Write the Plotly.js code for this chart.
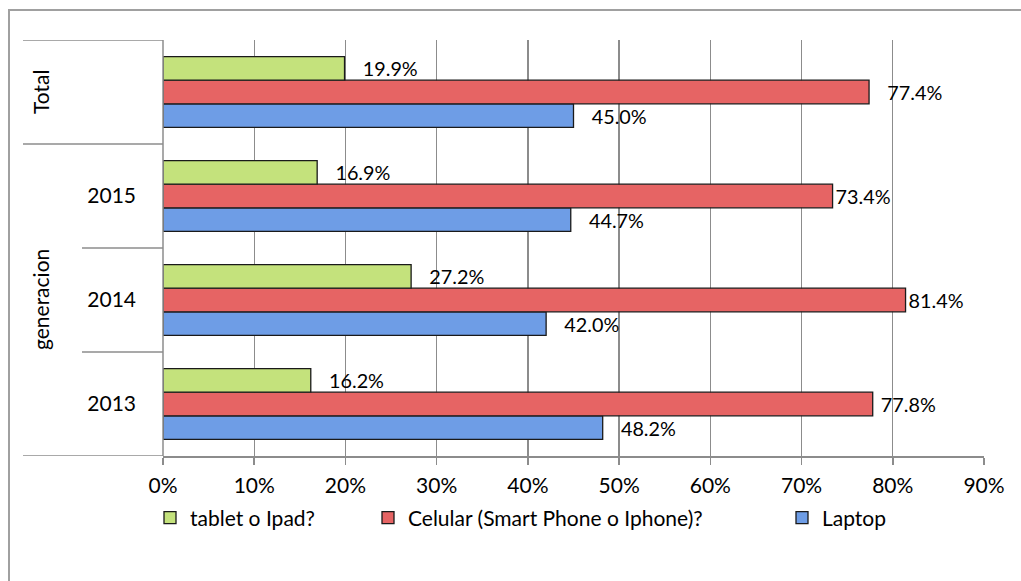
<!DOCTYPE html>
<html>
<head>
<meta charset="utf-8">
<script src="https://cdn.plot.ly/plotly-3.0.1.min.js"></script>
<style>html,body{margin:0;padding:0;background:#fff;}#chart{width:1021px;height:581px;}</style>
</head>
<body>
<div id="chart"></div>
<script>
var categories = ["2013", "2014", "2015", "Total"];
var tickLabels = ["2013", "2014", "2015", ""];
var laptop = [0.482, 0.420, 0.447, 0.450];
var celular = [0.778, 0.814, 0.734, 0.774];
var tablet = [0.162, 0.272, 0.169, 0.199];
var seriesNames = ["Laptop", "Celular (Smart Phone o Iphone)?", "tablet o Ipad?"];
var groupTotal = "Total";
var groupGen = "generacion";

var F = "Lato, 'Open Sans', sans-serif";
var FS = 21;
var sp = "\u00a0";
function mk(vals, name, color, tmpl, leg) {
  return {
    type: "bar", orientation: "h", y: categories, x: vals, name: name,
    marker: {color: color, line: {color: "#1a1a1a", width: 1.3}},
    texttemplate: tmpl, textposition: "outside", cliponaxis: false,
    textfont: {family: F, size: FS, color: "#000"},
    hoverinfo: "x+name", legend: leg
  };
}
var gapT = sp + sp + sp + "%{x:.1%}";
var data = [
  mk(laptop, seriesNames[0], "#6e9de6", gapT, "legend3"),
  mk(celular, seriesNames[1], "#e66464", [sp + "%{x:.1%}", "%{x:.1%}", "%{x:.1%}", gapT], "legend2"),
  mk(tablet, seriesNames[2], "#c4e27c", gapT, "legend")
];

var lineC = "#8c8c8c";
function px2x(p) { return (p - 163) / 821; }
var shapes = [
  {type: "rect", xref: "paper", yref: "paper", x0: px2x(9), x1: 1.2, y0: -0.5, y1: (456 - 10) / 416, line: {color: "#a0a0a0", width: 2}, layer: "below"},
  {type: "line", xref: "paper", yref: "y", x0: px2x(23), x1: 0, y0: 3.5, y1: 3.5, line: {color: lineC, width: 1.5}},
  {type: "line", xref: "paper", yref: "y", x0: px2x(23), x1: 0, y0: 2.5, y1: 2.5, line: {color: lineC, width: 1.5}},
  {type: "line", xref: "paper", yref: "y", x0: px2x(82), x1: 0, y0: 1.5, y1: 1.5, line: {color: lineC, width: 1.5}},
  {type: "line", xref: "paper", yref: "y", x0: px2x(82), x1: 0, y0: 0.5, y1: 0.5, line: {color: lineC, width: 1.5}},
  {type: "line", xref: "paper", yref: "y", x0: px2x(23), x1: 0, y0: -0.5, y1: -0.5, line: {color: lineC, width: 1.5}},
  {type: "line", xref: "paper", yref: "y", x0: 0, x1: 0, y0: -0.5, y1: 3.5, line: {color: lineC, width: 1.5}}
];

function leg(px) {
  return {orientation: "h", x: px2x(px), xanchor: "left", y: (456 - 518) / 416, yanchor: "middle",
    font: {family: F, size: FS, color: "#000"}, itemclick: false, itemdoubleclick: false, bgcolor: "rgba(0,0,0,0)"};
}

var layout = {
  width: 1021, height: 581,
  margin: {l: 163, r: 37, t: 40, b: 125},
  paper_bgcolor: "#fff", plot_bgcolor: "#fff",
  barmode: "group", bargap: 0.32, bargroupgap: 0,
  font: {family: F, size: FS, color: "#000"},
  xaxis: {
    range: [0, 0.9], dtick: 0.1, tickformat: ".0%", showgrid: true, gridcolor: lineC, gridwidth: 1.3,
    zeroline: false, showline: true, linecolor: lineC, linewidth: 1.5,
    ticks: "outside", ticklen: 7, tickcolor: lineC, tickwidth: 1.5, ticklabelstandoff: 3,
    tickfont: {family: F, size: FS, color: "#000"}, fixedrange: true
  },
  yaxis: {
    type: "category", categoryorder: "array", categoryarray: categories, range: [-0.5, 3.5],
    tickvals: categories, ticktext: tickLabels, ticks: "", showgrid: false, zeroline: false,
    showline: false, ticklabelstandoff: 26, tickfont: {family: F, size: FS, color: "#000"}, fixedrange: true
  },
  shapes: shapes,
  annotations: [
    {xref: "paper", yref: "y", x: px2x(40), xanchor: "center", y: 3, text: groupTotal, textangle: -90, showarrow: false, font: {family: F, size: FS, color: "#000"}},
    {xref: "paper", yref: "y", x: px2x(40), xanchor: "center", y: 1, text: groupGen, textangle: -90, showarrow: false, font: {family: F, size: FS, color: "#000"}}
  ],
  showlegend: true,
  legend: leg(150),
  legend2: leg(368),
  legend3: leg(782)
};
Plotly.newPlot("chart", data, layout, {displayModeBar: false, staticPlot: true});
</script>
</body>
</html>
